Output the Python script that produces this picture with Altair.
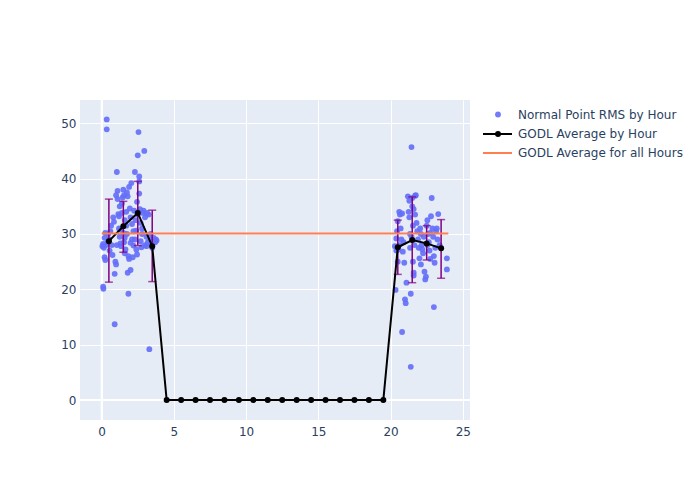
import altair as alt
import pandas as pd

# Scatter: Normal Point RMS by Hour
pt_hour = [0.05,0.1,0.15,0.2,0.25,0.1,0.12,0.35,0.35,0.4,0.5,0.6,0.7,0.75,0.8,0.85,0.9,0.9,0.95,1.0,
           1.05,1.0,1.1,1.1,1.15,1.2,1.2,1.25,1.3,1.35,1.4,1.45,1.5,1.5,1.55,1.6,1.6,1.65,1.7,1.7,
           1.75,1.8,1.8,1.85,1.85,1.9,1.9,1.95,2.0,2.0,2.05,2.1,2.1,2.15,2.2,2.25,2.3,2.35,2.4,2.45,
           2.5,2.5,2.55,2.6,2.6,2.6,2.65,2.7,2.7,2.75,2.8,2.85,2.9,2.95,3.0,3.0,3.1,3.1,3.2,3.25,
           3.3,3.35,3.4,3.45,3.5,3.6,3.7,3.75,3.8,
           0.45,0.55,0.65,1.05,1.3,1.4,1.6,1.75,2.0,2.2,2.3,2.4,2.8,3.15,1.25,1.55,2.45,0.2,0.3,0.25,
           20.35,20.4,20.45,20.5,20.5,20.55,20.6,20.65,20.7,20.75,20.8,20.8,20.85,20.9,20.95,21.0,21.05,21.1,21.2,21.25,
           21.3,21.35,21.35,21.4,21.4,21.45,21.5,21.5,21.55,21.55,21.6,21.6,21.65,21.7,21.7,21.75,21.8,21.85,21.9,21.95,
           22.0,22.05,22.1,22.15,22.2,22.25,22.3,22.35,22.4,22.45,22.5,22.55,22.6,22.65,22.7,22.75,22.8,22.85,22.9,22.95,
           23.0,23.0,23.05,23.1,23.15,23.25,23.3,23.4,23.9,23.9,20.3,20.4,20.6,21.3,21.45,21.6,22.1,22.55,22.75,23.2]
pt_rms = [27.8,28.2,27.5,25.8,25.3,20.5,20.1,50.7,48.9,28.5,29.0,30.5,28.0,26.2,33.0,32.2,13.7,22.8,25.0,24.5,
          41.2,37.0,37.8,36.3,33.6,33.2,31.0,29.5,28.3,27.8,35.5,36.6,38.0,30.2,28.5,29.3,26.5,27.2,34.0,31.5,
          37.5,36.8,23.0,19.2,26.0,25.5,38.5,34.6,23.5,33.0,39.2,31.8,29.0,25.8,27.9,34.2,41.2,32.5,30.6,35.8,
          44.2,33.5,48.4,40.4,39.5,37.3,34.5,32.0,28.7,27.6,30.0,33.8,34.2,45.0,33.0,28.0,29.5,27.8,28.5,33.5,
          9.2,29.0,30.0,28.2,27.5,29.3,28.5,29.0,28.8,
          30.0,27.0,31.5,28.0,30.8,33.8,32.5,30.0,28.4,30.5,29.0,27.2,31.0,33.8,35.0,37.0,26.3,29.3,28.0,30.2,
          19.9,27.0,30.5,32.3,25.0,27.2,34.0,33.5,31.0,29.0,12.3,33.7,26.8,28.5,24.8,18.2,17.5,21.2,36.8,34.0,
          33.0,30.0,27.5,6.0,19.2,45.7,36.5,35.0,31.5,25.0,23.0,22.5,28.0,36.9,33.5,37.0,32.0,30.5,29.0,27.5,
          25.6,31.0,30.0,28.0,27.2,26.5,29.5,23.2,21.8,22.3,31.5,32.5,30.0,28.5,27.0,25.5,33.2,36.5,31.0,29.5,
          16.8,26.0,24.8,27.5,30.5,29.0,33.6,28.0,25.6,23.6,27.8,29.2,28.0,36.0,29.5,34.5,24.5,28.0,30.2,31.0]

# GODL Average by Hour
avg_hour = [0.5,1.5,2.5,3.5,4.5,5.5,6.5,7.5,8.5,9.5,10.5,11.5,12.5,13.5,14.5,15.5,16.5,17.5,18.5,19.5,20.5,21.5,22.5,23.5]
avg_val = [28.7,31.4,33.8,27.8,0,0,0,0,0,0,0,0,0,0,0,0,0,0,0,0,27.6,28.9,28.3,27.4]

# Error bars (non-zero hours)
err_hour = [0.5,1.5,2.5,3.5,20.5,21.5,22.5,23.5]
err_lo = [21.3,26.7,27.9,21.4,22.7,21.2,25.3,22.0]
err_hi = [36.3,35.9,39.5,34.3,32.5,36.7,31.5,32.6]

# GODL Average for all Hours
overall_avg = 30.1
overall_x = [0, 24]

legend_labels = ["Normal Point RMS by Hour", "GODL Average by Hour", "GODL Average for all Hours"]

FONT = "DejaVu Sans"
TXT = "#2a3f5f"

xs = alt.Scale(domain=[-1.5, 25.5], nice=False, zero=False)
ys = alt.Scale(domain=[-3.6, 54.2], nice=False, zero=False)

pts = pd.DataFrame({"hour": pt_hour, "rms": pt_rms})
avg = pd.DataFrame({"hour": avg_hour, "val": avg_val})
err = pd.DataFrame({"hour": err_hour, "lo": err_lo, "hi": err_hi})
ov = pd.DataFrame({"x": [overall_x[0]], "x2": [overall_x[1]], "y": [overall_avg]})

xaxis = alt.Axis(values=[0, 5, 10, 15, 20, 25], title=None, grid=True)
yaxis = alt.Axis(values=[0, 10, 20, 30, 40, 50], title=None, grid=True)

zero_x = alt.Chart(pd.DataFrame({"v": [0]})).mark_rule(color="white", strokeWidth=2).encode(
    x=alt.X("v:Q", scale=xs, axis=xaxis))
zero_y = alt.Chart(pd.DataFrame({"v": [0]})).mark_rule(color="white", strokeWidth=2).encode(
    y=alt.Y("v:Q", scale=ys, axis=yaxis))

scatter = alt.Chart(pts).mark_circle(size=34, color="#636efa", opacity=0.9).encode(
    x=alt.X("hour:Q", scale=xs, axis=xaxis),
    y=alt.Y("rms:Q", scale=ys, axis=yaxis))

err_rule = alt.Chart(err).mark_rule(color="#800080", strokeWidth=1.5).encode(
    x=alt.X("hour:Q", scale=xs), y=alt.Y("lo:Q", scale=ys), y2="hi:Q")
cap_lo = alt.Chart(err).mark_tick(color="#800080", orient="horizontal", size=8, thickness=1.5).encode(
    x=alt.X("hour:Q", scale=xs), y=alt.Y("lo:Q", scale=ys))
cap_hi = alt.Chart(err).mark_tick(color="#800080", orient="horizontal", size=8, thickness=1.5).encode(
    x=alt.X("hour:Q", scale=xs), y=alt.Y("hi:Q", scale=ys))

line = alt.Chart(avg).mark_line(color="black", strokeWidth=2,
                                point=alt.OverlayMarkDef(color="black", size=36, filled=True, opacity=1)).encode(
    x=alt.X("hour:Q", scale=xs), y=alt.Y("val:Q", scale=ys))

ovl = alt.Chart(ov).mark_rule(color="#ff7f50", strokeWidth=2).encode(
    x=alt.X("x:Q", scale=xs), x2="x2:Q", y=alt.Y("y:Q", scale=ys))

dummy = pd.DataFrame({"a": [0]})
lg_pt = alt.Chart(dummy).mark_circle(size=34, color="#636efa", opacity=0.9).encode(
    x=alt.value(418), y=alt.value(14.5))
lg_line = alt.Chart(dummy).mark_rule(color="black", strokeWidth=2).encode(
    x=alt.value(403), x2=alt.value(432), y=alt.value(34))
lg_dot = alt.Chart(dummy).mark_circle(size=36, color="black", opacity=1).encode(
    x=alt.value(418), y=alt.value(34))
lg_orange = alt.Chart(dummy).mark_rule(color="#ff7f50", strokeWidth=2).encode(
    x=alt.value(403), x2=alt.value(432), y=alt.value(53))
lg_texts = [
    alt.Chart(dummy).mark_text(align="left", baseline="middle", font=FONT, fontSize=12, color=TXT).encode(
        x=alt.value(438), y=alt.value(yy), text=alt.value(lbl))
    for lbl, yy in zip(legend_labels, [14.5, 34, 53])
]

chart = alt.layer(
    zero_x, zero_y, scatter, err_rule, cap_lo, cap_hi, line, ovl,
    lg_pt, lg_line, lg_dot, lg_orange, *lg_texts
).properties(
    width=390, height=320,
    autosize=alt.AutoSizeParams(type="none"),
    padding={"left": 80, "top": 100, "right": 230, "bottom": 80},
    background="white"
).configure_view(
    fill="#e5ecf6", stroke=None
).configure_axis(
    domain=False, ticks=False, gridColor="white", gridWidth=1,
    labelFont=FONT, labelFontSize=12, labelColor=TXT, labelPadding=6
).configure_axisY(labelPadding=4)

chart.save("out.html", embed_options={"renderer": "svg", "actions": False})
